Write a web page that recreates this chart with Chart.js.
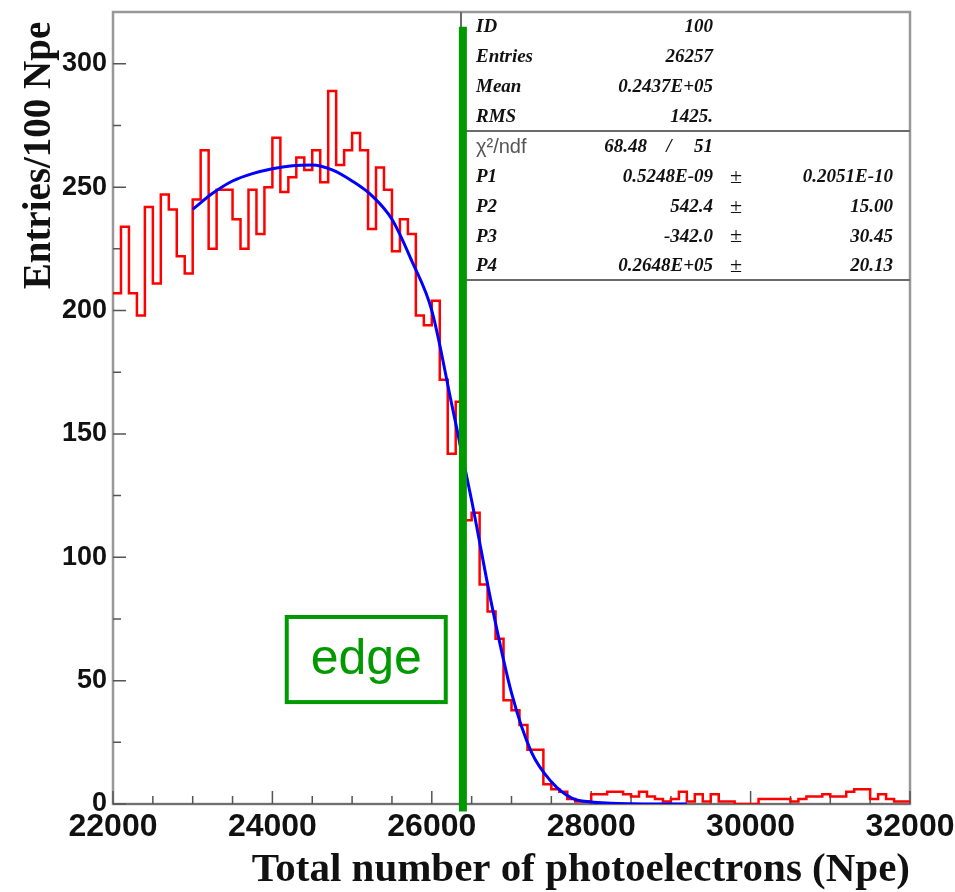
<!DOCTYPE html>
<html>
<head>
<meta charset="utf-8">
<script src="https://cdn.jsdelivr.net/npm/chart.js@4.4.1/dist/chart.umd.min.js"></script>
<style>
html,body{margin:0;padding:0;background:#fff;}
#wrap{width:955px;height:892px;position:relative;}
</style>
</head>
<body>
<div id="wrap"><canvas id="grafico"></canvas></div>
<script>
// histograma: 100 bins de 100 Npe desde 22000
const binInicio = 22000
const binAncho = 100
const cuentas = [
207,234,207,198,242,211,247,241,222,215,
245,265,225,249,249,237,225,249,231,250,
270,248,254,262,257,265,252,289,259,265,
272,265,233,258,249,224,237,231,198,194,
204,172,142,163,115,118,89,78,67,42,
38,32,22,22,8,6,5,2,1,1,
4,4,5,5,4,3,5,3,2,1,
2,5,1,4,1,4,1,1,0,0,
0,2,2,2,2,1,2,3,3,4,
3,3,5,6,6,2,4,2,1,1
]

// curva del ajuste
const ajusteX = [23000,23250,23500,23750,24000,24250,24500,24750,25000,25250,25500,25750,26000,26250,26500,26750,27000,27250,27500,27750,28000,28250,28500,28750,29000,29200]
const ajusteY = [241,247.5,252.5,255.5,257.5,258.7,259,257,252.5,246.5,237,220,200,162,123,81,45,21,9,2.5,0.8,0.3,0.1,0,0,0]

// linea del borde (edge)
const bordeNpe = 26390
const bordeY = [315, -3]

// ejes
const ejeX = {min: 22000, max: 32000, paso: 2000, menor: 500}
const ejeY = {min: 0, max: 321, paso: 50, menor: 25}

// caja de estadisticas
const statsNombres = ["ID","Entries","Mean","RMS"]
const statsValores = ["100","26257","0.2437E+05","1425."]
const chiValores = ["68.48","51"]
const parNombres = ["P1","P2","P3","P4"]
const parValores = ["0.5248E-09","542.4","-342.0","0.2648E+05"]
const parErrores = ["0.2051E-10","15.00","30.45","20.13"]

const puntosHisto = cuentas.map((c,i)=>({x: binInicio + i*binAncho, y: c}))
puntosHisto.push({x: binInicio + cuentas.length*binAncho, y: cuentas[cuentas.length-1]})

const puntosAjuste = ajusteX.map((x,i)=>({x: x, y: ajusteY[i]}))

const VERDE = '#009a00'
const serif = '"Liberation Serif", "Times New Roman", serif'
const sans = '"Liberation Sans", Arial, sans-serif'

const marcas = {
  id: 'marcas',
  beforeDatasetsDraw(chart) {
    const {ctx, chartArea: a, scales: {x, y}} = chart
    ctx.save()

    // marco
    ctx.strokeStyle = '#989898'
    ctx.lineWidth = 2.5
    ctx.strokeRect(a.left, a.top, a.right - a.left, a.bottom - a.top)
    ctx.strokeStyle = '#707070'
    ctx.lineWidth = 2
    ctx.beginPath()
    ctx.moveTo(a.left, a.bottom); ctx.lineTo(a.right, a.bottom)
    ctx.stroke()

    // ticks hacia adentro
    ctx.strokeStyle = '#555'
    ctx.lineWidth = 1.5
    ctx.beginPath()
    for (let v = ejeX.min; v <= ejeX.max; v += ejeX.menor) {
      const px = x.getPixelForValue(v)
      const largo = (v - ejeX.min) % ejeX.paso === 0 ? 13 : 8
      ctx.moveTo(px, a.bottom); ctx.lineTo(px, a.bottom - largo)
    }
    for (let v = ejeY.min; v <= ejeY.max; v += ejeY.menor) {
      const py = y.getPixelForValue(v)
      const largo = v % ejeY.paso === 0 ? 13 : 8
      ctx.moveTo(a.left, py); ctx.lineTo(a.left + largo, py)
    }
    ctx.stroke()

    // caja de estadisticas
    const bx = a.left + 348
    const by = a.top
    ctx.strokeStyle = '#6a6a6a'
    ctx.lineWidth = 2
    ctx.beginPath()
    ctx.moveTo(bx, by); ctx.lineTo(bx, by + 268)
    ctx.moveTo(bx, by + 119); ctx.lineTo(a.right, by + 119)
    ctx.moveTo(bx, by + 268); ctx.lineTo(a.right, by + 268)
    ctx.stroke()

    ctx.fillStyle = '#111'
    ctx.textBaseline = 'middle'
    ctx.font = 'italic bold 19px ' + serif
    statsNombres.forEach((n,i)=>{
      const ty = by + 15 + 30*i
      ctx.textAlign = 'left'
      ctx.fillText(n, bx + 15, ty)
      ctx.textAlign = 'right'
      ctx.fillText(statsValores[i], bx + 252, ty)
    })

    // chi2
    let ty = by + 135
    ctx.textAlign = 'left'
    ctx.fillStyle = '#555'
    ctx.font = '20px ' + sans
    ctx.fillText('χ²/ndf', bx + 15, ty)
    ctx.fillStyle = '#111'
    ctx.font = 'italic bold 19px ' + serif
    ctx.textAlign = 'right'
    ctx.fillText(chiValores[0], bx + 186, ty)
    ctx.textAlign = 'center'
    ctx.fillText('/', bx + 208, ty)
    ctx.textAlign = 'right'
    ctx.fillText(chiValores[1], bx + 252, ty)

    parNombres.forEach((n,i)=>{
      const t = by + 165 + 29.8*i
      ctx.textAlign = 'left'
      ctx.fillText(n, bx + 15, t)
      ctx.textAlign = 'right'
      ctx.fillText(parValores[i], bx + 252, t)
      ctx.textAlign = 'center'
      ctx.font = '22px ' + serif
      ctx.fillText('±', bx + 275, t)
      ctx.font = 'italic bold 19px ' + serif
      ctx.textAlign = 'right'
      ctx.fillText(parErrores[i], a.right - 17, t)
    })

    ctx.restore()
  },
  afterDraw(chart) {
    const {ctx, scales: {x, y}} = chart
    // caja "edge"
    const x1 = x.getPixelForValue(24180), x2 = x.getPixelForValue(26175)
    const y1 = y.getPixelForValue(75.8), y2 = y.getPixelForValue(41.3)
    ctx.save()
    ctx.strokeStyle = VERDE
    ctx.lineWidth = 4
    ctx.strokeRect(x1, y1, x2 - x1, y2 - y1)
    ctx.fillStyle = VERDE
    ctx.font = '50px ' + sans
    ctx.textAlign = 'center'
    ctx.textBaseline = 'middle'
    ctx.fillText('edge', (x1 + x2)/2, (y1 + y2)/2 + 1)
    ctx.restore()
  }
}

const ctx = document.getElementById('grafico')

new Chart(ctx, {
  type: 'line',
  data: {
    datasets: [
      {
        data: [{x: bordeNpe, y: bordeY[0]}, {x: bordeNpe, y: bordeY[1]}],
        borderColor: VERDE,
        borderWidth: 8,
        borderCapStyle: 'butt',
        clip: false,
        order: 0
      },
      {
        data: puntosAjuste,
        borderColor: '#0000ff',
        borderWidth: 3,
        cubicInterpolationMode: 'monotone',
        order: 1
      },
      {
        data: puntosHisto,
        borderColor: '#ff0000',
        borderWidth: 2.5,
        stepped: 'before',
        order: 2
      }
    ]
  },
  options: {
    responsive: true,
    maintainAspectRatio: false,
    animation: false,
    layout: {padding: {top: 12, right: 45, bottom: 0, left: 0}},
    elements: {point: {radius: 0}},
    plugins: {legend: {display: false}, tooltip: {enabled: false}},
    scales: {
      x: {
        type: 'linear',
        min: ejeX.min,
        max: ejeX.max,
        grid: {display: false, drawTicks: false},
        border: {display: false},
        ticks: {
          stepSize: ejeX.paso,
          autoSkip: false,
          maxRotation: 0,
          padding: 4,
          color: '#111',
          font: {family: sans, weight: 'bold', size: 32},
          callback: v => String(v)
        },
        title: {
          display: true,
          text: 'Total number of photoelectrons (Npe)',
          align: 'end',
          color: '#111',
          font: {family: serif, weight: 'bold', size: 41, lineHeight: 1},
          padding: {top: 0, bottom: 1.5}
        },
        afterFit: s => { s.height = 88; s.paddingLeft = 0; s.paddingRight = 0 }
      },
      y: {
        min: ejeY.min,
        max: ejeY.max,
        grid: {display: false, drawTicks: false},
        border: {display: false},
        ticks: {
          stepSize: ejeY.paso,
          includeBounds: false,
          padding: 6,
          color: '#111',
          font: {family: sans, weight: 'bold', size: 27}
        },
        title: {
          display: true,
          text: 'Entries/100 Npe ',
          align: 'end',
          color: '#111',
          font: {family: serif, weight: 'bold', size: 39},
          padding: {top: 17, bottom: 0}
        },
        afterFit: s => { s.width = 113; s.paddingTop = 0; s.paddingBottom = 0 }
      }
    }
  },
  plugins: [marcas]
})
</script>
</body>
</html>
